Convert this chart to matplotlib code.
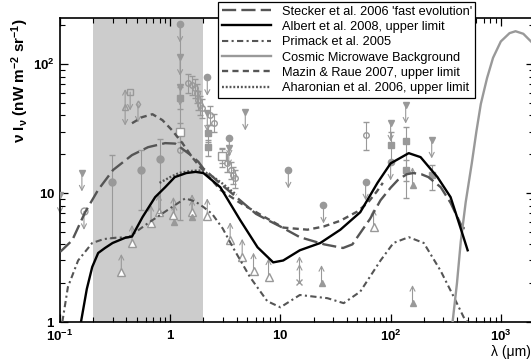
import matplotlib
matplotlib.use('Agg')
import matplotlib.pyplot as plt

plt.rcParams['font.family'] = ['Liberation Sans', 'DejaVu Sans']
plt.rcParams['mathtext.fontset'] = 'custom'
plt.rcParams['mathtext.rm'] = 'Liberation Sans'
plt.rcParams['mathtext.bf'] = 'Liberation Sans:bold'
plt.rcParams['mathtext.it'] = 'Liberation Sans:italic'

# model curves (wavelength in micron, nu I_nu in nW m^-2 sr^-1)
stecker_lam = [0.1, 0.104, 0.129, 0.169, 0.222, 0.303, 0.45, 0.63, 0.9, 1.11, 1.23, 1.5, 1.8, 2.0, 2.8, 4.3, 6.0,
               7.6, 10, 15, 25, 37, 45, 53, 65, 81, 100, 116, 140, 160, 190, 220, 285, 350, 450, 500]
stecker_val = [3.5, 3.6, 4.3, 7.1, 10.6, 15.1, 19.7, 22.7, 24.4, 24.2, 22.7, 20.0, 17.5, 15.5, 12.0, 8.8, 6.9,
               6.2, 5.5, 4.55, 4.0, 3.75, 4.0, 4.9, 6.3, 8.8, 11.0, 12.6, 14.0, 14.3, 14.0, 13.3, 11.1, 8.4, 5.35, 5.35]

albert_lam = [0.155, 0.175, 0.196, 0.222, 0.256, 0.3, 0.39, 0.45, 0.56, 0.73, 0.9, 1.1, 1.4, 1.7, 2.0, 2.85, 4.3,
              6.2, 8.6, 10.6, 15, 23, 35, 53, 76, 100, 146, 187, 266, 350, 430, 500]
albert_val = [1.0, 1.8, 2.67, 3.43, 3.75, 4.1, 4.5, 4.6, 6.5, 9.3, 11.1, 13.3, 14.3, 14.6, 14.3, 11.1, 6.2,
              3.8, 2.9, 3.0, 3.6, 4.1, 5.2, 7.1, 12.0, 17.0, 20.4, 19.0, 13.3, 9.3, 5.4, 3.6]

primack_lam = [0.105, 0.118, 0.146, 0.196, 0.25, 0.316, 0.42, 0.63, 1.04, 1.37, 1.69, 2.0, 2.4, 3.0, 3.7, 5.3,
               7.6, 10, 15, 26.7, 37.5, 53, 81, 106, 146, 200, 284, 375, 460, 500]
primack_val = [1.0, 1.87, 3.0, 4.1, 4.4, 4.5, 4.55, 5.85, 7.8, 9.1, 8.6, 7.8, 6.9, 5.3, 3.8, 2.23,
               1.45, 1.3, 1.62, 1.53, 1.4, 1.72, 3.0, 4.1, 4.55, 4.1, 2.5, 1.56, 1.09, 1.0]

cmb_lam = [365, 400, 433, 480, 545, 600, 658, 750, 850, 1000, 1200, 1360, 1600, 2000]
cmb_val = [1.0, 2.0, 4.2, 8.5, 17, 30, 49, 78, 112, 150, 174, 180, 172, 142]

mazin_lam = [0.45, 0.556, 0.69, 0.85, 1.04, 1.29, 1.58, 1.87, 2.0, 2.85, 4.3, 7.0, 10.6, 17.6, 24.6, 35, 50, 62, 75, 85]
mazin_val = [34.8, 38.8, 40.9, 36.8, 30.7, 24.4, 19.0, 15.9, 15.0, 10.6, 8.4, 6.6, 5.4, 5.2, 5.5, 6.1, 7.2, 8.4, 10.3, 12.0]

aharonian_lam = [0.8, 1.0, 1.2, 1.5, 1.8, 2.0, 2.5, 3.0, 3.5, 4.0]
aharonian_val = [12.0, 13.3, 14.3, 14.8, 15.0, 14.8, 13.2, 11.8, 10.6, 9.7]

# data points
ul_circ_lam = [1.23, 2.17, 3.44, 11.8, 24.6, 59.3, 100]
ul_circ_val = [204, 79, 26.7, 15.1, 8.07, 12.2, 17.4]
ul_tri_lam = [0.1, 0.158, 1.23, 1.23, 2.17, 3.4, 4.8, 100, 137, 236]
ul_tri_val = [9.6, 14.3, 113, 66, 41.7, 22.5, 42.5, 34.9, 48.1, 25.8]
ul_open_lam = [0.165, 0.433, 0.39, 0.51]
ul_open_val = [7.2, 60.7, 46.4, 49]
ul_open_mk = ['o', 's', '^', 'd']

ll_tri_lam = [0.36, 0.45, 0.67, 0.79, 1.07, 1.58, 2.17, 3.5, 4.5, 5.7, 7.8, 70]
ll_tri_val = [2.44, 4.1, 5.85, 7.1, 6.75, 7.1, 6.6, 4.3, 3.2, 2.5, 2.25, 5.45]
ll_ftri_lam = [1.09, 1.58, 23.6, 158, 158]
ll_ftri_val = [5.95, 6.5, 2.0, 1.4, 11.5]
ll_x_lam = [14.9]
ll_x_val = [2.04]

fc_lam = [0.297, 0.545, 0.81]
fc_val = [12.2, 15.1, 18.3]
fc_lo = [4.5, 7.4, 7.0]
fc_hi = [19.7, 21.5, 26.2]

oc_lam = [1.23, 1.46, 1.58, 1.69, 1.76, 1.8, 1.87, 1.95, 2.3, 2.5, 2.97, 3.3, 3.58, 3.73, 3.9, 59.3]
oc_val = [21.5, 71.3, 68.8, 65.2, 59.6, 52.6, 48.1, 45.6, 40, 35, 19, 17, 15, 13.8, 13, 28.2]
oc_lo = [6.2, 60, 58, 55, 50, 44, 40, 38, 34, 30, 16, 14.5, 12.8, 11.8, 11, 21.5]
oc_hi = [200, 84, 81, 77, 70, 62, 57, 54, 47, 41, 22.5, 20, 17.5, 16, 15.2, 35.5]

sq_lam = [1.23, 1.23, 2.2, 2.2, 2.97, 100, 137, 137, 236]
sq_val = [54.5, 29.7, 29.2, 22.7, 19.5, 23.6, 25.3, 15.1, 13.8]
sq_lo = [45, 25, 25, 19.5, 17, 17, 9.1, 12.5, 10.5]
sq_hi = [66, 35, 34, 26, 22, 30, 32.4, 18, 16.5]
sq_open = [False, True, False, False, True, False, False, False, False]

band = (0.2, 2.0)
pt = '#999999'
dk = '#555555'

fig = plt.figure(figsize=(5.31, 3.6), dpi=100)
ax = fig.add_axes([60 / 531, 38 / 360, 474 / 531, 304 / 360])
ax.set_xscale('log')
ax.set_yscale('log')
ax.set_xlim(0.1, 2000)
ax.set_ylim(1, 228)
ax.axvspan(band[0], band[1], color='#cccccc', lw=0, zorder=0)

arr = dict(arrowstyle='->,head_length=0.35,head_width=0.18', color=pt, lw=0.8, shrinkA=0, shrinkB=0)


def arrow(l, v, up):
    f = 1.38 if up else 0.72
    ax.annotate('', xy=(l, v * f), xytext=(l, v), arrowprops=arr, zorder=2)


for l, v in zip(ul_circ_lam, ul_circ_val):
    arrow(l, v, False)
ax.plot(ul_circ_lam, ul_circ_val, 'o', color=pt, ms=4.5, ls='none', zorder=3)
for l, v in zip(ul_tri_lam, ul_tri_val):
    arrow(l, v, False)
ax.plot(ul_tri_lam, ul_tri_val, 'v', color=pt, ms=4.5, ls='none', zorder=3)
for l, v, m in zip(ul_open_lam, ul_open_val, ul_open_mk):
    arrow(l, v, False)
    ax.plot([l], [v], m, mfc='none', mec=pt, ms=5 if m != 'd' else 3.5, zorder=3)
arrow(ul_open_lam[2], ul_open_val[2], True)

for l, v in zip(ll_tri_lam, ll_tri_val):
    arrow(l, v, True)
ax.plot(ll_tri_lam, ll_tri_val, '^', mfc='white', mec=pt, ms=5.5, ls='none', zorder=3)
for l, v in zip(ll_ftri_lam, ll_ftri_val):
    arrow(l, v, True)
ax.plot(ll_ftri_lam, ll_ftri_val, '^', color=pt, ms=4.5, ls='none', zorder=3)
for l, v in zip(ll_x_lam, ll_x_val):
    arrow(l, v, True)
    arrow(l, v * 1.15, True)
ax.plot(ll_x_lam, ll_x_val, 'x', color=pt, ms=4, ls='none', zorder=3)

ax.errorbar(fc_lam, fc_val, yerr=[[v - lo for v, lo in zip(fc_val, fc_lo)], [hi - v for v, hi in zip(fc_val, fc_hi)]],
            fmt='o', color=pt, ms=5, elinewidth=0.8, capsize=2, zorder=3)
ax.errorbar(oc_lam, oc_val, yerr=[[v - lo for v, lo in zip(oc_val, oc_lo)], [hi - v for v, hi in zip(oc_val, oc_hi)]],
            fmt='o', mfc='none', mec=pt, color=pt, ms=4, elinewidth=0.8, capsize=2, zorder=3)
for l, v, lo, hi, op in zip(sq_lam, sq_val, sq_lo, sq_hi, sq_open):
    ax.errorbar([l], [v], yerr=[[v - lo], [hi - v]], fmt='s', color=pt, mfc='white' if op else pt, mec=pt,
                ms=5.5 if op else 4.5, elinewidth=0.8, capsize=2, zorder=3)

ax.plot(stecker_lam, stecker_val, color=dk, lw=1.7, dashes=(6, 2.2), label="Stecker et al. 2006 'fast evolution'", zorder=4)
ax.plot(albert_lam, albert_val, color='black', lw=1.7, label='Albert et al. 2008, upper limit', zorder=5)
ax.plot(primack_lam, primack_val, color=dk, lw=1.5, dashes=(3, 1.6, 1, 1.6), label='Primack et al. 2005', zorder=4)
ax.plot(cmb_lam, cmb_val, color='#999999', lw=1.7, label='Cosmic Microwave Background', zorder=4)
ax.plot(mazin_lam, mazin_val, color=dk, lw=1.7, dashes=(2.6, 1.8), label='Mazin & Raue 2007, upper limit', zorder=4)
ax.plot(aharonian_lam, aharonian_val, color=dk, lw=1.7, dashes=(0.8, 0.8), label='Aharonian et al. 2006, upper limit', zorder=4)

ax.set_xticks([0.1, 1, 10, 100, 1000])
ax.set_xticklabels([r'$\mathbf{10^{-1}}$', r'$\mathbf{1}$', r'$\mathbf{10}$', r'$\mathbf{10^{2}}$', r'$\mathbf{10^{3}}$'])
ax.set_yticks([1, 10, 100])
ax.set_yticklabels([r'$\mathbf{1}$', r'$\mathbf{10}$', r'$\mathbf{10^{2}}$'])
ax.tick_params(which='both', direction='in', top=True, right=True, labelsize=9.5)
ax.tick_params(which='major', length=6, width=0.9)
ax.tick_params(which='minor', length=3.5, width=0.8)
ax.tick_params(axis='x', pad=5)
for s in ax.spines.values():
    s.set_linewidth(1.2)

ax.set_ylabel(r'$\mathbf{\nu\ I_{\nu}\ (nW\ m^{-2}\ sr^{-1})}$', fontsize=11, loc='top', labelpad=2)
ax.set_xlabel('λ (μm)', fontsize=10, ha='right', va='top')
ax.xaxis.set_label_coords(0.994, -0.075)

leg = ax.legend(loc='upper left', bbox_to_anchor=(218 / 531, 358 / 360), bbox_transform=fig.transFigure,
                fontsize=9.2, handlelength=3.9, handletextpad=0.8, labelspacing=0.26, borderpad=0.28,
                borderaxespad=0, fancybox=False, framealpha=1, edgecolor='black')
leg.get_frame().set_linewidth(0.9)
leg.set_zorder(10)

fig.savefig('out.png', dpi=100)
